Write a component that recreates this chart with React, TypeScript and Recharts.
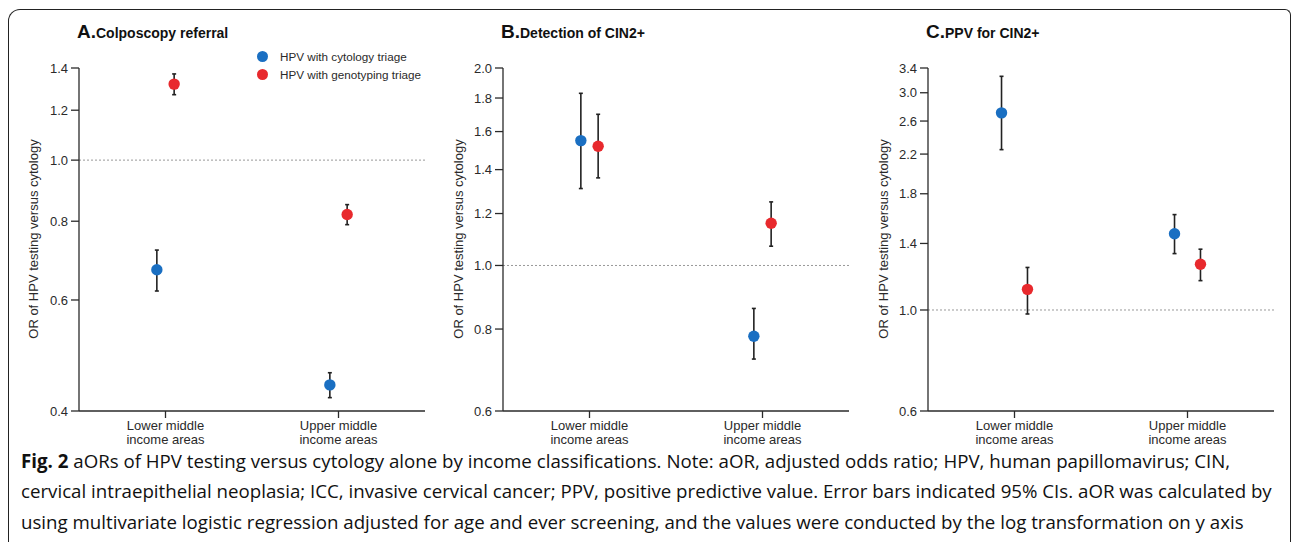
import React from "react"
import { ScatterChart, Scatter, XAxis, YAxis, ErrorBar, ReferenceLine } from "recharts"

// categories on the x axis (two-line tick labels)
const categories = [
  ["Lower middle", "income areas"],
  ["Upper middle", "income areas"],
]

const seriesNames = ["HPV with cytology triage", "HPV with genotyping triage"]

// A. Colposcopy referral
const aBlueEst = [0.67, 0.44]
const aBlueLo = [0.62, 0.42]
const aBlueHi = [0.72, 0.46]
const aRedEst = [1.32, 0.82]
const aRedLo = [1.27, 0.79]
const aRedHi = [1.37, 0.85]
const aTicks = [0.4, 0.6, 0.8, 1.0, 1.2, 1.4]

// B. Detection of CIN2+
const bBlueEst = [1.55, 0.78]
const bBlueLo = [1.31, 0.72]
const bBlueHi = [1.83, 0.86]
const bRedEst = [1.52, 1.16]
const bRedLo = [1.36, 1.07]
const bRedHi = [1.7, 1.25]
const bTicks = [0.6, 0.8, 1.0, 1.2, 1.4, 1.6, 1.8, 2.0]

// C. PPV for CIN2+
const cBlueEst = [2.71, 1.47]
const cBlueLo = [2.25, 1.33]
const cBlueHi = [3.26, 1.62]
const cRedEst = [1.11, 1.26]
const cRedLo = [0.98, 1.16]
const cRedHi = [1.24, 1.36]
const cTicks = [0.6, 1.0, 1.4, 1.8, 2.2, 2.6, 3.0, 3.4]

const BLUE = "#1a6fc2"
const RED = "#e8292d"
const INK = "#2a2a2a"
const FONT = "'Liberation Sans', Arial, sans-serif"

const Y_AXIS_W = 60

function buildPoints(est: number[], lo: number[], hi: number[], shift: number) {
  return est.map((v, i) => ({ x: i + 1 + shift, y: v, err: [v - lo[i], hi[i] - v] }))
}

function XTick(props: any) {
  const { x, y, payload } = props
  const lines = categories[Math.round(payload.value) - 1] || []
  return (
    <text x={x} y={y} textAnchor="middle" fontSize={13} fill={INK} fontFamily={FONT}>
      {lines.map((l, i) => (
        <tspan key={i} x={x} dy={i === 0 ? 10 : 14}>
          {l}
        </tspan>
      ))}
    </text>
  )
}

const dot = (color: string) => (p: any) => <circle cx={p.cx} cy={p.cy} r={5.7} fill={color} />

type PanelProps = {
  plotLeft: number
  letter: string
  title: string
  ticks: number[]
  blue: any[]
  red: any[]
  labelX: number
}

function Panel({ plotLeft, letter, title, ticks, blue, red, labelX }: PanelProps) {
  const W = Y_AXIS_W + 346 + 4
  return (
    <>
      <div
        style={{
          position: "absolute",
          left: plotLeft - 2,
          top: 21,
          fontFamily: FONT,
          fontWeight: "bold",
          color: "#111",
          whiteSpace: "nowrap",
        }}
      >
        <span style={{ fontSize: 19 }}>{letter}</span>
        <span style={{ fontSize: 14 }}>{title}</span>
      </div>
      <div
        style={{
          position: "absolute",
          left: labelX - 150,
          top: 239 - 9,
          width: 300,
          height: 18,
          textAlign: "center",
          transform: "rotate(-90deg)",
          fontFamily: FONT,
          fontSize: 13,
          color: INK,
          whiteSpace: "nowrap",
        }}
      >
        OR of HPV testing versus cytology
      </div>
      <div style={{ position: "absolute", left: plotLeft - Y_AXIS_W, top: 0 }}>
        <ScatterChart width={W} height={470} margin={{ top: 68, right: 4, bottom: 0, left: 0 }}>
          <XAxis
            type="number"
            dataKey="x"
            domain={[0.5, 2.5]}
            ticks={[1, 2]}
            allowDataOverflow
            height={59}
            tickSize={7}
            tickMargin={2}
            axisLine={{ stroke: INK, strokeWidth: 1.3 }}
            tickLine={{ stroke: INK, strokeWidth: 1.3 }}
            tick={<XTick />}
          />
          <YAxis
            type="number"
            dataKey="y"
            scale="log"
            domain={[ticks[0], ticks[ticks.length - 1]]}
            ticks={ticks}
            allowDataOverflow
            width={Y_AXIS_W}
            tickSize={8}
            tickMargin={3}
            axisLine={{ stroke: INK, strokeWidth: 1.3 }}
            tickLine={{ stroke: INK, strokeWidth: 1.3 }}
            tick={{ fontSize: 13, fill: INK, fontFamily: FONT }}
            tickFormatter={(v: number) => v.toFixed(1)}
          />
          <ReferenceLine y={1} stroke="#999" strokeDasharray="2 2" strokeWidth={1} />
          <Scatter data={blue} shape={dot(BLUE)} isAnimationActive={false}>
            <ErrorBar dataKey="err" direction="y" width={2} stroke="#222" strokeWidth={1.6} />
          </Scatter>
          <Scatter data={red} shape={dot(RED)} isAnimationActive={false}>
            <ErrorBar dataKey="err" direction="y" width={2} stroke="#222" strokeWidth={1.6} />
          </Scatter>
        </ScatterChart>
      </div>
    </>
  )
}

function LegendBox() {
  const colors = [BLUE, RED]
  return (
    <div style={{ position: "absolute", left: 257, top: 47, fontFamily: FONT, fontSize: 11.7, color: INK }}>
      {seriesNames.map((n, i) => (
        <div key={n} style={{ display: "flex", alignItems: "center", height: 18 }}>
          <span
            style={{
              width: 11,
              height: 11,
              borderRadius: "50%",
              background: colors[i],
              display: "inline-block",
              marginRight: 12,
            }}
          />
          <span>{n}</span>
        </div>
      ))}
    </div>
  )
}

const captionLines = [
  "aORs of HPV testing versus cytology alone by income classifications. Note: aOR, adjusted odds ratio; HPV, human papillomavirus; CIN,",
  "cervical intraepithelial neoplasia; ICC, invasive cervical cancer; PPV, positive predictive value. Error bars indicated 95% CIs. aOR was calculated by",
  "using multivariate logistic regression adjusted for age and ever screening, and the values were conducted by the log transformation on y axis",
]
const captionCenters = [460, 490.5, 521]

export default function App() {
  const dA = 0.05
  const dC = 0.075
  return (
    <div style={{ position: "absolute", left: 0, top: 0, width: 1292, height: 542, overflow: "hidden", background: "#fff" }}>
      <div
        style={{
          position: "absolute",
          left: 8,
          top: 9,
          width: 1281,
          height: 600,
          borderLeft: "1.6px solid #222",
          borderTop: "1.6px solid #222",
          borderRight: "1.6px solid #222",
          borderTopLeftRadius: 12,
          borderTopRightRadius: 6,
        }}
      />
      <Panel
        plotLeft={79}
        letter="A."
        title="Colposcopy referral"
        ticks={aTicks}
        blue={buildPoints(aBlueEst, aBlueLo, aBlueHi, -dA)}
        red={buildPoints(aRedEst, aRedLo, aRedHi, dA)}
        labelX={35}
      />
      <Panel
        plotLeft={503}
        letter="B."
        title="Detection of CIN2+"
        ticks={bTicks}
        blue={buildPoints(bBlueEst, bBlueLo, bBlueHi, -dA)}
        red={buildPoints(bRedEst, bRedLo, bRedHi, dA)}
        labelX={460}
      />
      <Panel
        plotLeft={928}
        letter="C."
        title="PPV for CIN2+"
        ticks={cTicks}
        blue={buildPoints(cBlueEst, cBlueLo, cBlueHi, -dC)}
        red={buildPoints(cRedEst, cRedLo, cRedHi, dC)}
        labelX={885}
      />
      <LegendBox />
      {captionLines.map((l, i) => (
        <div
          key={i}
          style={{
            position: "absolute",
            left: 21,
            top: captionCenters[i] - 8.5,
            height: 17,
            fontFamily: "'Open Sans', 'Noto Sans', sans-serif",
            fontSize: 18.7,
            lineHeight: "17px",
            color: "#111",
            whiteSpace: "nowrap",
          }}
        >
          {i === 0 && <b>Fig. 2 </b>}
          {l}
        </div>
      ))}
    </div>
  )
}
